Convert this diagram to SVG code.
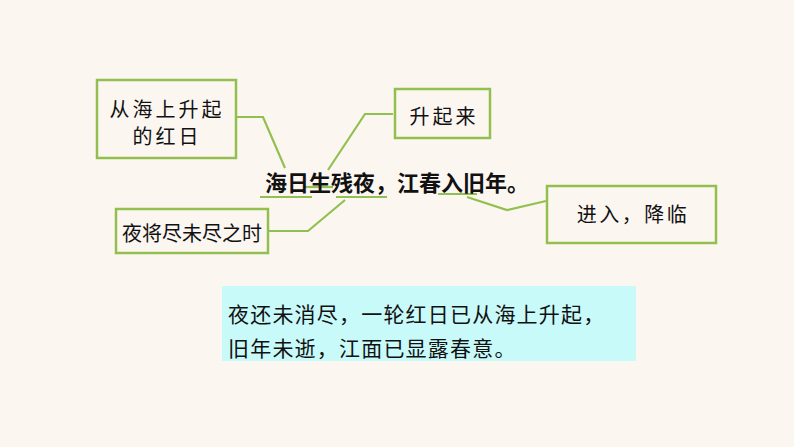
<svg xmlns="http://www.w3.org/2000/svg" width="794" height="447" viewBox="0 0 794 447">
<style>
.box{fill:#FCF6F1;stroke:#92C050;stroke-width:2.5}
.ln{fill:none;stroke:#92C050;stroke-width:2.2}
.t{font-family:"Noto Sans CJK SC","Noto Sans",sans-serif;fill:#111;font-size:20px;text-anchor:middle;dominant-baseline:central}
.main{font-family:"Noto Sans CJK SC","Noto Sans",sans-serif;fill:#111;font-size:22px;font-weight:bold;dominant-baseline:central}
.para{font-family:"Noto Sans CJK SC","Noto Sans",sans-serif;fill:#111;font-size:21px;letter-spacing:1.2px;dominant-baseline:central}
</style>
<rect width="794" height="447" fill="#FCF6F1"/>
<g id="connectors">
<polyline class="ln" points="237,117 263,117 285,168"/>
<polyline class="ln" points="393,114 365,114 328,170"/>
<polyline class="ln" points="269,231 308,231 345,200"/>
<polyline class="ln" points="467,197 507,210 546,201"/>
<line class="ln" x1="260" y1="197" x2="312" y2="197"/>
<line class="ln" x1="305" y1="187" x2="333" y2="187"/>
<line class="ln" x1="336" y1="197" x2="387" y2="197"/>
<line class="ln" x1="438" y1="194" x2="477" y2="194"/>
</g>
<g id="main-line">
<text class="main" x="265" y="181" textLength="264">海日生残夜，江春入旧年。</text>
</g>
<g id="node-sun">
<rect class="box" x="97" y="80" width="139" height="78"/>
<text class="t" x="167" y="108" letter-spacing="3">从海上升起</text>
<text class="t" x="167" y="135" letter-spacing="3">的红日</text>
</g>
<g id="node-rise">
<rect class="box" x="395" y="89" width="95" height="49"/>
<text class="t" x="444" y="115" letter-spacing="3">升起来</text>
</g>
<g id="node-night">
<rect class="box" x="116" y="209" width="152" height="44"/>
<text class="t" x="192" y="232" font-size="19">夜将尽未尽之时</text>
</g>
<g id="node-enter">
<rect class="box" x="547" y="186" width="169" height="57"/>
<text class="t" x="633" y="213" letter-spacing="2.5">进入，降临</text>
</g>
<g id="node-explain">
<rect x="222" y="286" width="414" height="75" fill="#C8FAFA"/>
<text class="para" x="228" y="313">夜还未消尽，一轮红日已从海上升起，</text>
<text class="para" x="228" y="347">旧年未逝，江面已显露春意。</text>
</g>
</svg>
